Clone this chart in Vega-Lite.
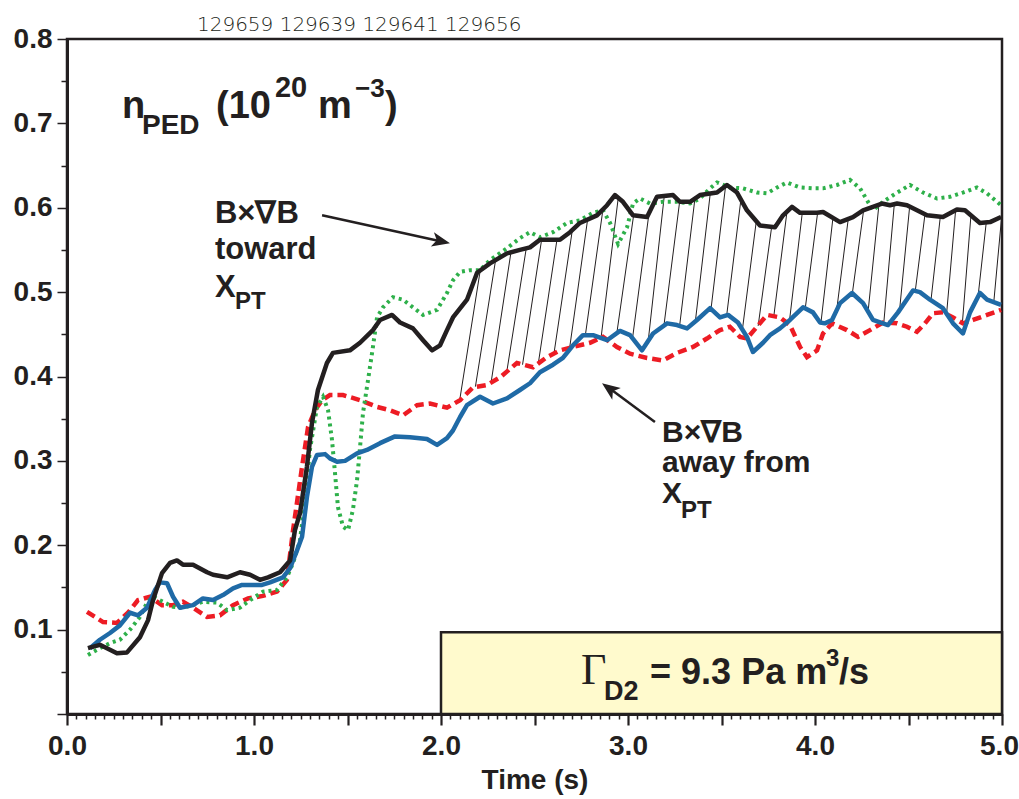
{
  "$schema": "https://vega.github.io/schema/vega-lite/v6.json",
  "width": 935,
  "height": 675,
  "autosize": "none",
  "padding": {"left": 67, "top": 39, "right": 17, "bottom": 85},
  "background": "white",
  "config": {"view": {"stroke": "#231f20", "strokeWidth": 2.5}, "axis": {"grid": false}},
  "datasets": {
    "one": [{}],
    "black": [
      {"t":0.112,"v":0.078},{"t":0.176,"v":0.082},{"t":0.267,"v":0.072},{"t":0.321,"v":0.073},{"t":0.39,"v":0.091},{"t":0.433,"v":0.111},{"t":0.46,"v":0.135},{"t":0.508,"v":0.167},{"t":0.551,"v":0.179},{"t":0.588,"v":0.182},{"t":0.62,"v":0.177},{"t":0.674,"v":0.177},{"t":0.749,"v":0.168},{"t":0.781,"v":0.165},{"t":0.856,"v":0.162},{"t":0.925,"v":0.168},{"t":0.979,"v":0.165},{"t":1.032,"v":0.159},{"t":1.075,"v":0.162},{"t":1.139,"v":0.168},{"t":1.193,"v":0.182},{"t":1.219,"v":0.218},{"t":1.246,"v":0.238},{"t":1.283,"v":0.293},{"t":1.31,"v":0.345},{"t":1.342,"v":0.384},{"t":1.39,"v":0.416},{"t":1.422,"v":0.428},{"t":1.513,"v":0.431},{"t":1.567,"v":0.44},{"t":1.636,"v":0.455},{"t":1.674,"v":0.467},{"t":1.738,"v":0.473},{"t":1.781,"v":0.464},{"t":1.85,"v":0.457},{"t":1.904,"v":0.443},{"t":1.952,"v":0.431},{"t":1.995,"v":0.437},{"t":2.032,"v":0.455},{"t":2.064,"v":0.47},{"t":2.139,"v":0.491},{"t":2.193,"v":0.523},{"t":2.262,"v":0.534},{"t":2.353,"v":0.546},{"t":2.422,"v":0.55},{"t":2.476,"v":0.553},{"t":2.529,"v":0.562},{"t":2.636,"v":0.562},{"t":2.69,"v":0.571},{"t":2.743,"v":0.582},{"t":2.834,"v":0.591},{"t":2.888,"v":0.603},{"t":2.93,"v":0.615},{"t":2.973,"v":0.607},{"t":3.027,"v":0.591},{"t":3.102,"v":0.589},{"t":3.155,"v":0.613},{"t":3.241,"v":0.615},{"t":3.278,"v":0.607},{"t":3.332,"v":0.607},{"t":3.385,"v":0.615},{"t":3.476,"v":0.618},{"t":3.529,"v":0.627},{"t":3.583,"v":0.618},{"t":3.636,"v":0.597},{"t":3.706,"v":0.579},{"t":3.786,"v":0.577},{"t":3.829,"v":0.591},{"t":3.877,"v":0.601},{"t":3.92,"v":0.594},{"t":4.011,"v":0.594},{"t":4.043,"v":0.595},{"t":4.134,"v":0.583},{"t":4.203,"v":0.589},{"t":4.257,"v":0.597},{"t":4.358,"v":0.605},{"t":4.401,"v":0.603},{"t":4.439,"v":0.605},{"t":4.492,"v":0.603},{"t":4.599,"v":0.591},{"t":4.684,"v":0.589},{"t":4.759,"v":0.598},{"t":4.802,"v":0.597},{"t":4.882,"v":0.582},{"t":4.936,"v":0.583},{"t":4.995,"v":0.589}
    ],
    "blue": [
      {"t":0.123,"v":0.078},{"t":0.176,"v":0.088},{"t":0.23,"v":0.096},{"t":0.283,"v":0.105},{"t":0.337,"v":0.12},{"t":0.38,"v":0.117},{"t":0.428,"v":0.126},{"t":0.471,"v":0.147},{"t":0.497,"v":0.156},{"t":0.535,"v":0.155},{"t":0.567,"v":0.139},{"t":0.604,"v":0.126},{"t":0.674,"v":0.129},{"t":0.727,"v":0.137},{"t":0.781,"v":0.135},{"t":0.834,"v":0.141},{"t":0.888,"v":0.149},{"t":0.936,"v":0.153},{"t":0.995,"v":0.153},{"t":1.043,"v":0.153},{"t":1.086,"v":0.156},{"t":1.155,"v":0.162},{"t":1.193,"v":0.173},{"t":1.23,"v":0.194},{"t":1.257,"v":0.21},{"t":1.283,"v":0.257},{"t":1.31,"v":0.293},{"t":1.337,"v":0.307},{"t":1.38,"v":0.308},{"t":1.406,"v":0.303},{"t":1.444,"v":0.299},{"t":1.487,"v":0.3},{"t":1.551,"v":0.309},{"t":1.604,"v":0.313},{"t":1.674,"v":0.321},{"t":1.754,"v":0.329},{"t":1.834,"v":0.328},{"t":1.925,"v":0.326},{"t":1.979,"v":0.319},{"t":2.032,"v":0.327},{"t":2.064,"v":0.336},{"t":2.102,"v":0.352},{"t":2.139,"v":0.366},{"t":2.209,"v":0.376},{"t":2.278,"v":0.368},{"t":2.353,"v":0.374},{"t":2.422,"v":0.384},{"t":2.476,"v":0.392},{"t":2.529,"v":0.405},{"t":2.599,"v":0.414},{"t":2.652,"v":0.422},{"t":2.706,"v":0.437},{"t":2.759,"v":0.449},{"t":2.813,"v":0.449},{"t":2.888,"v":0.443},{"t":2.957,"v":0.454},{"t":3.011,"v":0.449},{"t":3.075,"v":0.431},{"t":3.134,"v":0.451},{"t":3.209,"v":0.463},{"t":3.262,"v":0.461},{"t":3.316,"v":0.457},{"t":3.369,"v":0.467},{"t":3.439,"v":0.481},{"t":3.492,"v":0.47},{"t":3.535,"v":0.473},{"t":3.588,"v":0.464},{"t":3.636,"v":0.447},{"t":3.668,"v":0.429},{"t":3.722,"v":0.44},{"t":3.759,"v":0.449},{"t":3.813,"v":0.457},{"t":3.866,"v":0.467},{"t":3.936,"v":0.482},{"t":3.989,"v":0.476},{"t":4.027,"v":0.464},{"t":4.053,"v":0.463},{"t":4.091,"v":0.467},{"t":4.134,"v":0.487},{"t":4.198,"v":0.499},{"t":4.257,"v":0.487},{"t":4.31,"v":0.467},{"t":4.39,"v":0.461},{"t":4.444,"v":0.476},{"t":4.524,"v":0.502},{"t":4.561,"v":0.5},{"t":4.615,"v":0.491},{"t":4.684,"v":0.481},{"t":4.738,"v":0.463},{"t":4.791,"v":0.451},{"t":4.829,"v":0.476},{"t":4.882,"v":0.499},{"t":4.92,"v":0.491},{"t":4.995,"v":0.485}
    ],
    "red": [
      {"t":0.107,"v":0.121},{"t":0.193,"v":0.109},{"t":0.267,"v":0.108},{"t":0.326,"v":0.12},{"t":0.38,"v":0.135},{"t":0.444,"v":0.139},{"t":0.508,"v":0.129},{"t":0.567,"v":0.129},{"t":0.62,"v":0.133},{"t":0.674,"v":0.126},{"t":0.749,"v":0.115},{"t":0.818,"v":0.117},{"t":0.888,"v":0.129},{"t":0.968,"v":0.137},{"t":1.048,"v":0.14},{"t":1.123,"v":0.145},{"t":1.176,"v":0.159},{"t":1.209,"v":0.218},{"t":1.257,"v":0.293},{"t":1.289,"v":0.34},{"t":1.326,"v":0.36},{"t":1.364,"v":0.372},{"t":1.406,"v":0.378},{"t":1.476,"v":0.378},{"t":1.567,"v":0.372},{"t":1.658,"v":0.364},{"t":1.727,"v":0.36},{"t":1.797,"v":0.354},{"t":1.872,"v":0.366},{"t":1.941,"v":0.368},{"t":2.032,"v":0.363},{"t":2.102,"v":0.372},{"t":2.171,"v":0.387},{"t":2.246,"v":0.39},{"t":2.316,"v":0.399},{"t":2.406,"v":0.416},{"t":2.492,"v":0.411},{"t":2.567,"v":0.423},{"t":2.636,"v":0.431},{"t":2.706,"v":0.435},{"t":2.797,"v":0.44},{"t":2.866,"v":0.447},{"t":2.941,"v":0.435},{"t":3.011,"v":0.427},{"t":3.102,"v":0.422},{"t":3.187,"v":0.419},{"t":3.262,"v":0.428},{"t":3.348,"v":0.435},{"t":3.422,"v":0.445},{"t":3.492,"v":0.455},{"t":3.545,"v":0.459},{"t":3.599,"v":0.447},{"t":3.636,"v":0.445},{"t":3.69,"v":0.459},{"t":3.743,"v":0.473},{"t":3.813,"v":0.47},{"t":3.866,"v":0.461},{"t":3.92,"v":0.435},{"t":3.957,"v":0.423},{"t":4.011,"v":0.431},{"t":4.043,"v":0.451},{"t":4.091,"v":0.463},{"t":4.171,"v":0.455},{"t":4.23,"v":0.447},{"t":4.294,"v":0.455},{"t":4.364,"v":0.464},{"t":4.439,"v":0.463},{"t":4.492,"v":0.459},{"t":4.545,"v":0.453},{"t":4.588,"v":0.463},{"t":4.631,"v":0.475},{"t":4.684,"v":0.476},{"t":4.738,"v":0.47},{"t":4.791,"v":0.463},{"t":4.845,"v":0.467},{"t":4.92,"v":0.473},{"t":4.995,"v":0.479}
    ],
    "green": [
      {"t":0.112,"v":0.07},{"t":0.176,"v":0.078},{"t":0.23,"v":0.084},{"t":0.283,"v":0.088},{"t":0.337,"v":0.1},{"t":0.39,"v":0.115},{"t":0.428,"v":0.132},{"t":0.46,"v":0.139},{"t":0.513,"v":0.133},{"t":0.567,"v":0.127},{"t":0.62,"v":0.126},{"t":0.674,"v":0.129},{"t":0.727,"v":0.133},{"t":0.802,"v":0.132},{"t":0.856,"v":0.123},{"t":0.925,"v":0.126},{"t":0.979,"v":0.135},{"t":1.048,"v":0.145},{"t":1.123,"v":0.147},{"t":1.176,"v":0.162},{"t":1.209,"v":0.179},{"t":1.246,"v":0.206},{"t":1.273,"v":0.254},{"t":1.299,"v":0.313},{"t":1.337,"v":0.364},{"t":1.369,"v":0.376},{"t":1.396,"v":0.36},{"t":1.417,"v":0.325},{"t":1.433,"v":0.286},{"t":1.449,"v":0.245},{"t":1.476,"v":0.222},{"t":1.503,"v":0.218},{"t":1.529,"v":0.242},{"t":1.551,"v":0.277},{"t":1.567,"v":0.316},{"t":1.583,"v":0.357},{"t":1.61,"v":0.396},{"t":1.636,"v":0.435},{"t":1.658,"v":0.47},{"t":1.69,"v":0.482},{"t":1.743,"v":0.494},{"t":1.797,"v":0.491},{"t":1.85,"v":0.482},{"t":1.904,"v":0.473},{"t":1.979,"v":0.479},{"t":2.032,"v":0.499},{"t":2.064,"v":0.514},{"t":2.102,"v":0.524},{"t":2.155,"v":0.526},{"t":2.209,"v":0.526},{"t":2.262,"v":0.538},{"t":2.353,"v":0.552},{"t":2.422,"v":0.564},{"t":2.476,"v":0.571},{"t":2.529,"v":0.565},{"t":2.599,"v":0.571},{"t":2.674,"v":0.582},{"t":2.743,"v":0.585},{"t":2.813,"v":0.594},{"t":2.866,"v":0.597},{"t":2.904,"v":0.582},{"t":2.947,"v":0.557},{"t":2.995,"v":0.577},{"t":3.027,"v":0.605},{"t":3.064,"v":0.611},{"t":3.118,"v":0.605},{"t":3.187,"v":0.607},{"t":3.262,"v":0.607},{"t":3.332,"v":0.605},{"t":3.385,"v":0.611},{"t":3.439,"v":0.623},{"t":3.476,"v":0.63},{"t":3.545,"v":0.624},{"t":3.615,"v":0.623},{"t":3.69,"v":0.618},{"t":3.743,"v":0.617},{"t":3.797,"v":0.624},{"t":3.85,"v":0.63},{"t":3.92,"v":0.624},{"t":3.989,"v":0.623},{"t":4.043,"v":0.623},{"t":4.118,"v":0.627},{"t":4.187,"v":0.633},{"t":4.241,"v":0.623},{"t":4.278,"v":0.609},{"t":4.31,"v":0.597},{"t":4.364,"v":0.607},{"t":4.439,"v":0.618},{"t":4.508,"v":0.627},{"t":4.578,"v":0.618},{"t":4.652,"v":0.611},{"t":4.722,"v":0.613},{"t":4.791,"v":0.618},{"t":4.866,"v":0.624},{"t":4.92,"v":0.617},{"t":4.995,"v":0.603}
    ],
    "hatch": [
      {"t1":2.1,"v1":0.372,"t2":2.21,"v2":0.526},{"t1":2.184,"v1":0.388,"t2":2.292,"v2":0.538},{"t1":2.268,"v1":0.393,"t2":2.374,"v2":0.547},{"t1":2.352,"v1":0.406,"t2":2.456,"v2":0.552},{"t1":2.436,"v1":0.414,"t2":2.538,"v2":0.562},{"t1":2.52,"v1":0.415,"t2":2.62,"v2":0.562},{"t1":2.604,"v1":0.427,"t2":2.702,"v2":0.573},{"t1":2.688,"v1":0.434,"t2":2.784,"v2":0.586},{"t1":2.772,"v1":0.449,"t2":2.866,"v2":0.598},{"t1":2.856,"v1":0.446,"t2":2.948,"v2":0.612},{"t1":2.94,"v1":0.451,"t2":3.03,"v2":0.591},{"t1":3.024,"v1":0.445,"t2":3.112,"v2":0.593},{"t1":3.108,"v1":0.442,"t2":3.194,"v2":0.614},{"t1":3.192,"v1":0.46,"t2":3.276,"v2":0.607},{"t1":3.276,"v1":0.46,"t2":3.358,"v2":0.611},{"t1":3.36,"v1":0.465,"t2":3.44,"v2":0.617},{"t1":3.444,"v1":0.48,"t2":3.522,"v2":0.626},{"t1":3.528,"v1":0.473,"t2":3.604,"v2":0.61},{"t1":3.612,"v1":0.456,"t2":3.686,"v2":0.584},{"t1":3.696,"v1":0.46,"t2":3.768,"v2":0.577},{"t1":3.78,"v1":0.472,"t2":3.85,"v2":0.595},{"t1":3.864,"v1":0.467,"t2":3.932,"v2":0.594},{"t1":3.948,"v1":0.481,"t2":4.014,"v2":0.594},{"t1":4.032,"v1":0.464,"t2":4.096,"v2":0.588},{"t1":4.116,"v1":0.479,"t2":4.178,"v2":0.587},{"t1":4.2,"v1":0.499,"t2":4.26,"v2":0.597},{"t1":4.284,"v1":0.477,"t2":4.342,"v2":0.604},{"t1":4.368,"v1":0.464,"t2":4.424,"v2":0.604},{"t1":4.452,"v1":0.478,"t2":4.506,"v2":0.601},{"t1":4.536,"v1":0.501,"t2":4.588,"v2":0.592},{"t1":4.62,"v1":0.49,"t2":4.67,"v2":0.589},{"t1":4.704,"v1":0.475,"t2":4.752,"v2":0.597},{"t1":4.788,"v1":0.463,"t2":4.834,"v2":0.591},{"t1":4.872,"v1":0.495,"t2":4.916,"v2":0.583},{"t1":4.956,"v1":0.488,"t2":4.998,"v2":0.589}
    ]
  },
  "encoding": {
    "x": {"type": "quantitative", "scale": {"domain": [0, 5], "nice": false, "zero": false},
      "axis": {
        "title": "Time (s)", "titleFont": "Liberation Sans", "titleFontSize": 28, "titleFontWeight": "bold", "titleColor": "#231f20", "titlePadding": 6,
        "values": [0,0.05,0.1,0.15,0.2,0.25,0.3,0.35,0.4,0.45,0.5,0.55,0.6,0.65,0.7,0.75,0.8,0.85,0.9,0.95,1,1.05,1.1,1.15,1.2,1.25,1.3,1.35,1.4,1.45,1.5,1.55,1.6,1.65,1.7,1.75,1.8,1.85,1.9,1.95,2,2.05,2.1,2.15,2.2,2.25,2.3,2.35,2.4,2.45,2.5,2.55,2.6,2.65,2.7,2.75,2.8,2.85,2.9,2.95,3,3.05,3.1,3.15,3.2,3.25,3.3,3.35,3.4,3.45,3.5,3.55,3.6,3.65,3.7,3.75,3.8,3.85,3.9,3.95,4,4.05,4.1,4.15,4.2,4.25,4.3,4.35,4.4,4.45,4.5,4.55,4.6,4.65,4.7,4.75,4.8,4.85,4.9,4.95,5],
        "labelExpr": "abs(datum.value - round(datum.value)) < 0.001 ? format(datum.value, '.1f') : ''",
        "labelOverlap": false, "labelFlush": false, "labelBound": false,
        "labelOffset": {"condition": {"test": "datum.value > 4.9", "value": -3}, "value": 0},
        "labelFont": "Liberation Sans", "labelFontSize": 28, "labelFontWeight": "bold", "labelColor": "#231f20", "labelPadding": 7,
        "tickSize": {"condition": {"test": "abs(datum.value*2 - round(datum.value*2)) < 0.001", "value": 11}, "value": 5},
        "tickWidth": {"condition": {"test": "abs(datum.value*2 - round(datum.value*2)) < 0.001", "value": 2.2}, "value": 1.5},
        "tickColor": "#231f20", "domainColor": "#231f20", "domainWidth": 3
      }
    },
    "y": {"type": "quantitative", "scale": {"domain": [0, 0.8], "nice": false, "zero": false},
      "axis": {
        "title": null,
        "values": [0,0.05,0.1,0.15,0.2,0.25,0.3,0.35,0.4,0.45,0.5,0.55,0.6,0.65,0.7,0.75,0.8],
        "labelExpr": "datum.value > 0.01 && abs(datum.value*10 - round(datum.value*10)) < 0.001 ? format(datum.value, '.1f') : ''",
        "labelOverlap": false, "labelFlush": false, "labelBound": false,
        "labelFont": "Liberation Sans", "labelFontSize": 28, "labelFontWeight": "bold", "labelColor": "#231f20", "labelPadding": 5,
        "tickSize": {"condition": {"test": "abs(datum.value*10 - round(datum.value*10)) < 0.001", "value": 10}, "value": 6},
        "tickWidth": 1.5, "tickColor": "#231f20", "domainColor": "#231f20", "domainWidth": 3
      }
    }
  },
  "layer": [
    {"data": {"name": "hatch"}, "mark": {"type": "rule", "color": "#231f20", "strokeWidth": 1},
      "encoding": {"x": {"field": "t1"}, "y": {"field": "v1"}, "x2": {"field": "t2"}, "y2": {"field": "v2"}}},
    {"data": {"name": "red"}, "mark": {"type": "line", "color": "#ed1c24", "strokeWidth": 4.5, "strokeDash": [9, 5]},
      "encoding": {"x": {"field": "t"}, "y": {"field": "v"}}},
    {"data": {"name": "green"}, "mark": {"type": "line", "color": "#2eb04a", "strokeWidth": 4, "strokeDash": [3, 4]},
      "encoding": {"x": {"field": "t"}, "y": {"field": "v"}}},
    {"data": {"name": "blue"}, "mark": {"type": "line", "color": "#1f6aa6", "strokeWidth": 4.5, "strokeJoin": "round"},
      "encoding": {"x": {"field": "t"}, "y": {"field": "v"}}},
    {"data": {"name": "black"}, "mark": {"type": "line", "color": "#231f20", "strokeWidth": 4.5, "strokeJoin": "round"},
      "encoding": {"x": {"field": "t"}, "y": {"field": "v"}}},
    {"data": {"name": "one"}, "mark": {"type": "rect", "fill": "#fffacd", "stroke": "#231f20", "strokeWidth": 2.5},
      "encoding": {"x": {"datum": 2.0, "type": "quantitative"}, "x2": {"datum": 5.0}, "y": {"datum": 0.0, "type": "quantitative"}, "y2": {"datum": 0.097}}},
    {"data": {"name": "one"}, "mark": {"type": "rule", "color": "#231f20", "strokeWidth": 2.5},
      "encoding": {"x": {"datum": 1.364, "type": "quantitative"}, "y": {"datum": 0.591, "type": "quantitative"}, "x2": {"datum": 1.985}, "y2": {"datum": 0.561}}},
    {"data": {"name": "one"}, "mark": {"type": "point", "shape": "M0,0 L-2,-0.8 L-1.5,0 L-2,0.8 Z", "size": 324, "angle": 12.3, "filled": true, "color": "#231f20", "opacity": 1},
      "encoding": {"x": {"datum": 2.048, "type": "quantitative"}, "y": {"datum": 0.558, "type": "quantitative"}}},
    {"data": {"name": "one"}, "mark": {"type": "rule", "color": "#231f20", "strokeWidth": 2.5},
      "encoding": {"x": {"datum": 3.144, "type": "quantitative"}, "y": {"datum": 0.346, "type": "quantitative"}, "x2": {"datum": 2.913}, "y2": {"datum": 0.384}}},
    {"data": {"name": "one"}, "mark": {"type": "point", "shape": "M0,0 L-2,-0.8 L-1.5,0 L-2,0.8 Z", "size": 324, "angle": 216.3, "filled": true, "color": "#231f20", "opacity": 1},
      "encoding": {"x": {"datum": 2.861, "type": "quantitative"}, "y": {"datum": 0.392, "type": "quantitative"}}},
    {"data": {"name": "one"}, "mark": {"type": "text", "text": "129659 129639 129641 129656", "align": "left", "baseline": "alphabetic", "font": "DejaVu Sans", "fontWeight": 200, "fontSize": 20, "color": "#231f20", "clip": false},
      "encoding": {"x": {"datum": 0.695, "type": "quantitative"}, "y": {"datum": 0.81, "type": "quantitative"}}},
    {"data": {"name": "one"}, "mark": {"type": "text", "text": "n", "align": "left", "baseline": "alphabetic", "font": "Liberation Sans", "fontWeight": "bold", "fontSize": 38, "color": "#231f20"},
      "encoding": {"x": {"datum": 0.294, "type": "quantitative"}, "y": {"datum": 0.706, "type": "quantitative"}}},
    {"data": {"name": "one"}, "mark": {"type": "text", "text": "PED", "align": "left", "baseline": "alphabetic", "font": "Liberation Sans", "fontWeight": "bold", "fontSize": 28, "color": "#231f20"},
      "encoding": {"x": {"datum": 0.401, "type": "quantitative"}, "y": {"datum": 0.688, "type": "quantitative"}}},
    {"data": {"name": "one"}, "mark": {"type": "text", "text": "(10", "align": "left", "baseline": "alphabetic", "font": "Liberation Sans", "fontWeight": "bold", "fontSize": 38, "color": "#231f20"},
      "encoding": {"x": {"datum": 0.797, "type": "quantitative"}, "y": {"datum": 0.706, "type": "quantitative"}}},
    {"data": {"name": "one"}, "mark": {"type": "text", "text": "20", "align": "left", "baseline": "alphabetic", "font": "Liberation Sans", "fontWeight": "bold", "fontSize": 29, "color": "#231f20"},
      "encoding": {"x": {"datum": 1.112, "type": "quantitative"}, "y": {"datum": 0.731, "type": "quantitative"}}},
    {"data": {"name": "one"}, "mark": {"type": "text", "text": "m", "align": "left", "baseline": "alphabetic", "font": "Liberation Sans", "fontWeight": "bold", "fontSize": 38, "color": "#231f20"},
      "encoding": {"x": {"datum": 1.342, "type": "quantitative"}, "y": {"datum": 0.706, "type": "quantitative"}}},
    {"data": {"name": "one"}, "mark": {"type": "text", "text": "−3", "align": "left", "baseline": "alphabetic", "font": "Liberation Sans", "fontWeight": "bold", "fontSize": 26, "color": "#231f20"},
      "encoding": {"x": {"datum": 1.54, "type": "quantitative"}, "y": {"datum": 0.731, "type": "quantitative"}}},
    {"data": {"name": "one"}, "mark": {"type": "text", "text": ")", "align": "left", "baseline": "alphabetic", "font": "Liberation Sans", "fontWeight": "bold", "fontSize": 38, "color": "#231f20"},
      "encoding": {"x": {"datum": 1.7, "type": "quantitative"}, "y": {"datum": 0.706, "type": "quantitative"}}},
    {"data": {"name": "one"}, "mark": {"type": "text", "text": "B×∇B", "align": "left", "baseline": "alphabetic", "font": "Liberation Sans", "fontWeight": "bold", "fontSize": 31, "color": "#231f20"},
      "encoding": {"x": {"datum": 0.791, "type": "quantitative"}, "y": {"datum": 0.582, "type": "quantitative"}}},
    {"data": {"name": "one"}, "mark": {"type": "text", "text": "toward", "align": "left", "baseline": "alphabetic", "font": "Liberation Sans", "fontWeight": "bold", "fontSize": 31, "color": "#231f20"},
      "encoding": {"x": {"datum": 0.791, "type": "quantitative"}, "y": {"datum": 0.539, "type": "quantitative"}}},
    {"data": {"name": "one"}, "mark": {"type": "text", "text": "X", "align": "left", "baseline": "alphabetic", "font": "Liberation Sans", "fontWeight": "bold", "fontSize": 31, "color": "#231f20"},
      "encoding": {"x": {"datum": 0.791, "type": "quantitative"}, "y": {"datum": 0.494, "type": "quantitative"}}},
    {"data": {"name": "one"}, "mark": {"type": "text", "text": "PT", "align": "left", "baseline": "alphabetic", "font": "Liberation Sans", "fontWeight": "bold", "fontSize": 24, "color": "#231f20"},
      "encoding": {"x": {"datum": 0.898, "type": "quantitative"}, "y": {"datum": 0.48, "type": "quantitative"}}},
    {"data": {"name": "one"}, "mark": {"type": "text", "text": "B×∇B", "align": "left", "baseline": "alphabetic", "font": "Liberation Sans", "fontWeight": "bold", "fontSize": 30, "color": "#231f20"},
      "encoding": {"x": {"datum": 3.182, "type": "quantitative"}, "y": {"datum": 0.322, "type": "quantitative"}}},
    {"data": {"name": "one"}, "mark": {"type": "text", "text": "away from", "align": "left", "baseline": "alphabetic", "font": "Liberation Sans", "fontWeight": "bold", "fontSize": 30, "color": "#231f20"},
      "encoding": {"x": {"datum": 3.182, "type": "quantitative"}, "y": {"datum": 0.287, "type": "quantitative"}}},
    {"data": {"name": "one"}, "mark": {"type": "text", "text": "X", "align": "left", "baseline": "alphabetic", "font": "Liberation Sans", "fontWeight": "bold", "fontSize": 30, "color": "#231f20"},
      "encoding": {"x": {"datum": 3.182, "type": "quantitative"}, "y": {"datum": 0.25, "type": "quantitative"}}},
    {"data": {"name": "one"}, "mark": {"type": "text", "text": "PT", "align": "left", "baseline": "alphabetic", "font": "Liberation Sans", "fontWeight": "bold", "fontSize": 24, "color": "#231f20"},
      "encoding": {"x": {"datum": 3.283, "type": "quantitative"}, "y": {"datum": 0.232, "type": "quantitative"}}},
    {"data": {"name": "one"}, "mark": {"type": "text", "text": "Γ", "align": "left", "baseline": "alphabetic", "font": "Liberation Serif", "fontWeight": "normal", "fontSize": 44, "color": "#231f20"},
      "encoding": {"x": {"datum": 2.749, "type": "quantitative"}, "y": {"datum": 0.0355, "type": "quantitative"}}},
    {"data": {"name": "one"}, "mark": {"type": "text", "text": "D2", "align": "left", "baseline": "alphabetic", "font": "Liberation Sans", "fontWeight": "bold", "fontSize": 27, "color": "#231f20"},
      "encoding": {"x": {"datum": 2.872, "type": "quantitative"}, "y": {"datum": 0.0166, "type": "quantitative"}}},
    {"data": {"name": "one"}, "mark": {"type": "text", "text": "= 9.3 Pa m", "align": "left", "baseline": "alphabetic", "font": "Liberation Sans", "fontWeight": "bold", "fontSize": 36, "color": "#231f20"},
      "encoding": {"x": {"datum": 3.118, "type": "quantitative"}, "y": {"datum": 0.0355, "type": "quantitative"}}},
    {"data": {"name": "one"}, "mark": {"type": "text", "text": "3", "align": "left", "baseline": "alphabetic", "font": "Liberation Sans", "fontWeight": "bold", "fontSize": 24, "color": "#231f20"},
      "encoding": {"x": {"datum": 4.059, "type": "quantitative"}, "y": {"datum": 0.0569, "type": "quantitative"}}},
    {"data": {"name": "one"}, "mark": {"type": "text", "text": "/s", "align": "left", "baseline": "alphabetic", "font": "Liberation Sans", "fontWeight": "bold", "fontSize": 36, "color": "#231f20"},
      "encoding": {"x": {"datum": 4.128, "type": "quantitative"}, "y": {"datum": 0.0355, "type": "quantitative"}}}
  ]
}
